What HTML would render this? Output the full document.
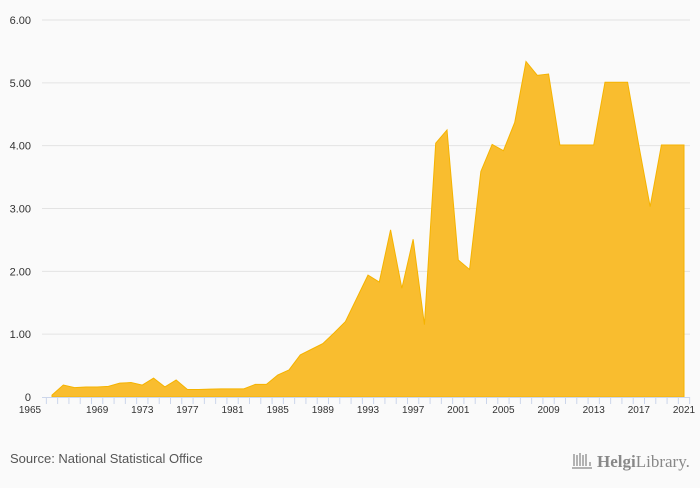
<!DOCTYPE html>
<html><head><meta charset="utf-8"><style>
body{margin:0;background:#fafafa;width:700px;height:483px;overflow:hidden;font-family:"Liberation Sans",sans-serif}
</style></head><body>
<svg width="700" height="483" viewBox="0 0 700 483">
<rect width="700" height="483" fill="#fafafa"/>
<g id="grid"></g><g id="area"></g><g id="xaxis"></g>
<text x="10" y="463" font-size="13" fill="#555">Source: National Statistical Office</text>
<g>
<g stroke="#999" stroke-width="1.5" fill="none"><path d="M572 468 L592 468 M574 454v12 M577 455v11 M580 453v13 M583 455v11 M586 454v12 M590 462v4"/></g>
<text x="597" y="467" font-size="17" fill="#888" font-family="Liberation Serif, serif"><tspan font-weight="bold">Helgi</tspan>Library.</text>
</g>
</svg>
<script>
const years=[];for(let y=1965;y<=2021;y++)years.push(y);
const values=[0.03,0.19,0.15,0.16,0.16,0.17,0.22,0.23,0.19,0.30,0.16,0.27,0.12,0.12,0.125,0.13,0.13,0.13,0.20,0.20,0.35,0.43,0.67,0.76,0.85,1.02,1.20,1.57,1.94,1.83,2.66,1.73,2.51,1.15,4.04,4.25,2.18,2.03,3.59,4.02,3.92,4.37,5.34,5.12,5.14,4.01,4.01,4.01,4.01,5.01,5.01,5.01,4.0,3.03,4.01,4.01,4.01];
const yTicks=[0,1,2,3,4,5,6];
const yTickLabels=["0","1.00","2.00","3.00","4.00","5.00","6.00"];
const xLabelYears=[1965,1969,1973,1977,1981,1985,1989,1993,1997,2001,2005,2009,2013,2017,2021];
const NS="http://www.w3.org/2000/svg";
const x=v=>52+(v-1965)*(632/56);
const y=v=>397-v*62.83;
function mk(t,a,p){const e=document.createElementNS(NS,t);for(const k in a)e.setAttribute(k,a[k]);p.appendChild(e);return e;}
const g=document.getElementById('grid');
yTicks.forEach((t,i)=>{
 if(t>0){const l=mk('line',{x1:42,x2:690,y1:y(t),y2:y(t),stroke:'#e3e3e3','stroke-width':1},g);
 
 }
 const tx=mk('text',{x:31,y:y(t)+4,'text-anchor':'end','font-size':11,fill:'#333'},g);tx.textContent=yTickLabels[i];
 
 
});
const a=document.getElementById('area');
let d='M'+x(years[0])+','+y(0);
years.forEach((yr,i)=>{d+=' L'+x(yr)+','+y(values[i]);});
d+=' L'+x(years[years.length-1])+','+y(0)+' Z';
const p=mk('path',{d:d,fill:'#f9bd2f',stroke:'#f5b300','stroke-width':1},a);


const xa=document.getElementById('xaxis');
const ax=mk('line',{x1:42,x2:690,y1:397.5,y2:397.5,stroke:'#ccd6eb'},xa);


for(let yr=1965;yr<=2022;yr++){const tk=mk('line',{x1:x(yr-0.5),x2:x(yr-0.5),y1:397,y2:404,stroke:'#ccd6eb'},xa);
 
 }
xLabelYears.forEach(yr=>{const t=mk('text',{x:yr===1965?30:x(yr),y:413,'text-anchor':'middle','font-size':10,fill:'#333'},xa);t.textContent=yr;
 
 });
</script>
</body></html>
